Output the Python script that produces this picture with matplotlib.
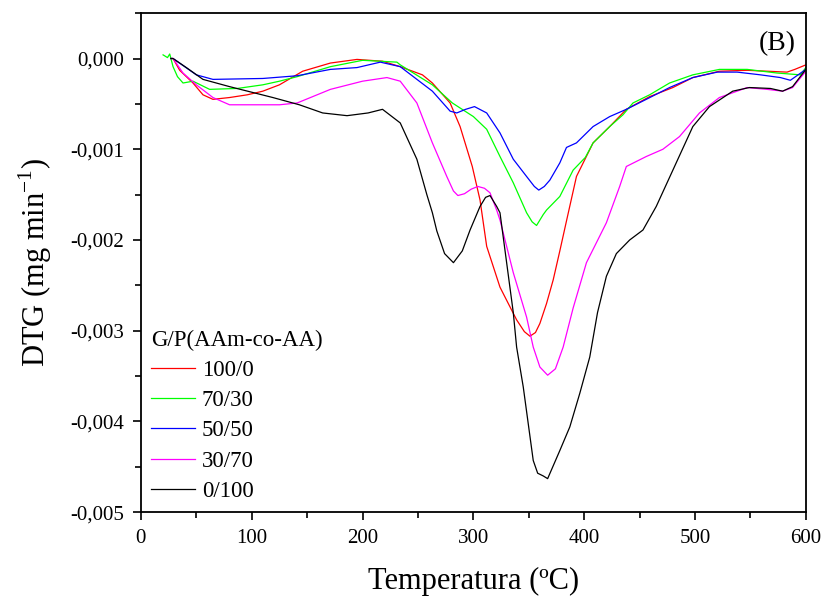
import numpy as np
import matplotlib
matplotlib.use('Agg')
import matplotlib.pyplot as plt
from matplotlib.ticker import FuncFormatter, MultipleLocator

plt.rcParams['font.family'] = ['Liberation Serif', 'DejaVu Serif']

# 100/0
x_red = [27, 29, 35, 47, 56, 65, 80, 96, 110, 125, 146, 171, 195, 218, 234, 254, 263, 279, 288,
         299, 306, 312, 324, 339, 346, 351, 356, 360, 366, 372, 378, 384, 393, 408, 423, 438,
         459, 480, 498, 522, 547, 583, 590, 600]
y_red = [0.0, 0.0, -0.00013, -0.00027, -0.0004, -0.00045, -0.00043, -0.0004, -0.00036, -0.00029,
         -0.00014, -0.00005, -0.00001, -0.00003, -0.00009, -0.00018, -0.00027, -0.00049, -0.00075,
         -0.00119, -0.00156, -0.00207, -0.00252, -0.00288, -0.00301, -0.00306, -0.00302, -0.00292,
         -0.0027, -0.00244, -0.00212, -0.00179, -0.0013, -0.00093, -0.00075, -0.00056,
         -0.00042, -0.00032, -0.00021, -0.00014, -0.00013, -0.00015, -0.00012, -0.00007]

# 70/30
x_green = [20, 24, 26, 29, 33, 38, 47, 62, 87, 110, 125, 141, 171, 200, 231, 234, 263, 281, 300,
           312, 324, 336, 348, 353, 357, 363, 366, 378, 390, 401, 408, 423, 435, 444, 459, 477,
           498, 522, 547, 574, 595, 600]
y_green = [0.00004, 0.00001, 0.00005, -0.00009, -0.0002, -0.00027, -0.00025, -0.00034, -0.00033,
           -0.00029, -0.00025, -0.0002, -0.00009, -0.00002, -0.00004, -0.00007, -0.00029, -0.00049,
           -0.00064, -0.00078, -0.00108, -0.00137, -0.0017, -0.0018, -0.00184, -0.00172, -0.00167,
           -0.00152, -0.00123, -0.00109, -0.00093, -0.00075, -0.00062, -0.00049, -0.0004,
           -0.00027, -0.00018, -0.00012, -0.00012, -0.00016, -0.00018, -0.0001]

# 50/50
x_blue = [27, 29, 50, 65, 110, 141, 171, 195, 216, 234, 263, 279, 285, 293, 301, 312, 324, 336,
          348, 355, 359, 364, 369, 378, 384, 393, 408, 423, 438, 456, 477, 498, 520, 538, 559,
          577, 586, 600]
y_blue = [0.0, 0.0, -0.00018, -0.00023, -0.00022, -0.00019, -0.00012, -0.0001, -0.00004,
          -0.00009, -0.00036, -0.00058, -0.0006, -0.00056, -0.00053, -0.0006, -0.00082, -0.00111,
          -0.0013, -0.00141, -0.00145, -0.00141, -0.00134, -0.00115, -0.00098, -0.00093,
          -0.00075, -0.00064, -0.00056, -0.00045, -0.00032, -0.00021, -0.00015, -0.00015,
          -0.00018, -0.00021, -0.00024, -0.00012]

# 30/70
x_mag = [27, 29, 38, 50, 65, 80, 125, 141, 171, 200, 222, 234, 249, 263, 276, 282, 286, 292,
         298, 304, 310, 315, 321, 324, 336, 348, 354, 360, 367, 374, 381, 390, 402, 420, 432,
         438, 456, 471, 486, 504, 522, 547, 565, 579, 588, 600]
y_mag = [0.0, 0.0, -0.00016, -0.00029, -0.00043, -0.00051, -0.00051, -0.00049, -0.00034,
         -0.00025, -0.00021, -0.00025, -0.00049, -0.00093, -0.0013, -0.00146, -0.00151, -0.00149,
         -0.00144, -0.00141, -0.00143, -0.00148, -0.00167, -0.00178, -0.00236, -0.00285,
         -0.00318, -0.0034, -0.00349, -0.00342, -0.00318, -0.00275, -0.00225, -0.00181,
         -0.00141, -0.00119, -0.00108, -0.001, -0.00086, -0.0006, -0.00043, -0.00032, -0.00034,
         -0.00036, -0.00032, -0.00014]

# 0/100
x_blk = [27, 29, 41, 56, 80, 119, 143, 164, 186, 205, 218, 234, 249, 258, 263, 267, 274, 282,
         290, 297, 306, 311, 315, 321, 324, 330, 336, 339, 345, 354, 358, 363, 367, 378, 387,
         396, 405, 412, 420, 429, 441, 453, 465, 480, 498, 513, 534, 549, 568, 579, 588, 600]
y_blk = [0.0, 0.0, -0.0001, -0.00023, -0.00031, -0.00043, -0.00051, -0.0006, -0.00063,
         -0.0006, -0.00056, -0.00071, -0.00111, -0.0015, -0.0017, -0.0019, -0.00215, -0.00225,
         -0.00212, -0.00189, -0.00163, -0.00153, -0.00151, -0.00163, -0.0017, -0.00225, -0.0028,
         -0.00318, -0.00362, -0.00443, -0.00457, -0.0046, -0.00463, -0.00432, -0.00406,
         -0.00369, -0.00329, -0.0028, -0.0024, -0.00215, -0.002, -0.00189, -0.00163, -0.00123,
         -0.00075, -0.00053, -0.00036, -0.00032, -0.00033, -0.00036, -0.00031, -0.00012]

labels = ['100/0', '70/30', '50/50', '30/70', '0/100']
colors = ['#ff0000', '#00ff00', '#0000ff', '#ff00ff', '#000000']
series = [(x_red, y_red), (x_green, y_green), (x_blue, y_blue), (x_mag, y_mag), (x_blk, y_blk)]

fig = plt.figure(figsize=(8.24, 5.97), dpi=100)
ax = fig.add_axes([0.171, 0.142, 0.807, 0.836])

for (xs, ys), lab, c in zip(series, labels, colors):
    ax.plot(xs, ys, color=c, lw=0.9, label=lab)

ax.set_xlim(0, 600)
ax.set_ylim(-0.005, 0.0005)
ax.xaxis.set_major_locator(MultipleLocator(100))
ax.xaxis.set_minor_locator(MultipleLocator(50))
ax.yaxis.set_major_locator(MultipleLocator(0.001))
ax.yaxis.set_minor_locator(MultipleLocator(0.0005))
ax.yaxis.set_major_formatter(FuncFormatter(lambda v, p: ('%.3f' % v).replace('.', ',').replace('-0,000', '0,000')))
ax.tick_params(which='major', direction='out', length=6, width=1.2, labelsize=15, pad=6)
ax.tick_params(which='minor', direction='out', length=4, width=1.2)
for s in ax.spines.values():
    s.set_linewidth(1.3)

ax.set_xlabel('Temperatura (ºC)', fontsize=22, labelpad=14)
ax.set_ylabel('DTG (mg min$^{\\mathregular{-1}}$)', fontsize=22, labelpad=12)
ax.text(0.985, 0.965, '(B)', transform=ax.transAxes, ha='right', va='top', fontsize=20)

leg = ax.legend(title='G/P(AAm-co-AA)', loc='lower left', frameon=False, fontsize=16.5,
                title_fontsize=16.5, alignment='left', handlelength=1.9, handletextpad=0.3,
                labelspacing=0.4, borderaxespad=0.15, borderpad=0.3)

fig.savefig('out.png', dpi=100)
